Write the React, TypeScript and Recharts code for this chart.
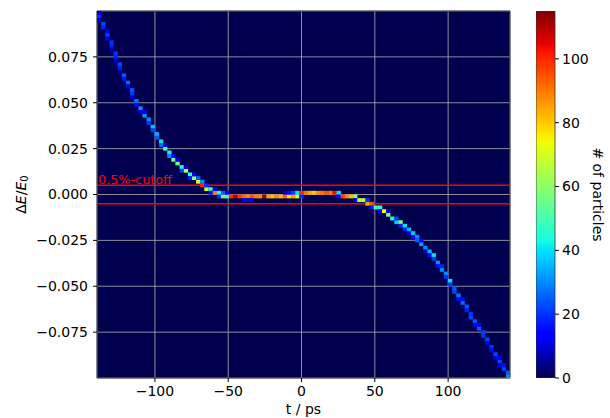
import {
  ScatterChart,
  Scatter,
  XAxis,
  YAxis,
  CartesianGrid,
  ReferenceLine,
  ReferenceArea,
  BarChart,
  Bar,
} from "recharts";

// t bin centres (ps)
const T_BINS = [
  -138.1, -135.3, -132.5, -129.6, -126.8, -124.0, -121.2, -118.4, -115.6, -112.7,
  -109.9, -107.1, -104.3, -101.5, -98.7, -95.8, -93.0, -90.2, -87.4, -84.6,
  -81.8, -78.9, -76.1, -73.3, -70.5, -67.7, -64.9, -62.0, -59.2, -56.4,
  -53.6, -50.8, -48.0, -45.1, -42.3, -39.5, -36.7, -33.9, -31.1, -28.2,
  -25.4, -22.6, -19.8, -17.0, -14.2, -11.3, -8.5, -5.7, -2.9, -0.1,
  2.8, 5.6, 8.4, 11.2, 14.0, 16.8, 19.7, 22.5, 25.3, 28.1,
  30.9, 33.7, 36.6, 39.4, 42.2, 45.0, 47.8, 50.6, 53.5, 56.3,
  59.1, 61.9, 64.7, 67.5, 70.4, 73.2, 76.0, 78.8, 81.6, 84.4,
  87.3, 90.1, 92.9, 95.7, 98.5, 101.3, 104.2, 107.0, 109.8, 112.6,
  115.4, 118.2, 121.1, 123.9, 126.7, 129.5, 132.3, 135.1, 138.0, 140.8,
];

// main (densest) dE/E0 bin of each t column, and its particle count
const DE_MAIN = [
  0.097, 0.093, 0.087, 0.081, 0.075, 0.069, 0.065, 0.061, 0.055, 0.051,
  0.047, 0.043, 0.041, 0.037, 0.033, 0.029, 0.025, 0.023, 0.019, 0.017,
  0.015, 0.013, 0.011, 0.009, 0.007, 0.005, 0.003, 0.003, 0.001, 0.001,
  -0.001, -0.001, -0.001, -0.001, -0.001, -0.001, -0.001, -0.001, -0.001, -0.001,
  -0.001, -0.001, -0.001, -0.001, -0.001, -0.001, -0.001, -0.001, -0.001, 0.001,
  0.001, 0.001, 0.001, 0.001, 0.001, 0.001, 0.001, 0.001, 0.001, -0.001,
  -0.001, -0.001, -0.001, -0.003, -0.003, -0.005, -0.005, -0.007, -0.007, -0.009,
  -0.011, -0.013, -0.015, -0.015, -0.017, -0.019, -0.021, -0.023, -0.027, -0.029,
  -0.031, -0.033, -0.037, -0.041, -0.043, -0.047, -0.051, -0.055, -0.059, -0.061,
  -0.067, -0.069, -0.073, -0.075, -0.079, -0.083, -0.087, -0.091, -0.095, -0.099,
];
const N_MAIN = [
  20, 22, 22, 18, 18, 18, 24, 26, 20, 28,
  30, 32, 30, 36, 34, 40, 50, 42, 55, 58,
  45, 65, 45, 60, 70, 100, 72, 45, 90, 45,
  55, 50, 100, 110, 98, 92, 88, 95, 90, 88,
  112, 85, 80, 88, 82, 92, 78, 85, 72, 100,
  90, 85, 80, 88, 90, 95, 90, 103, 40, 98,
  88, 82, 60, 68, 66, 85, 95, 50, 45, 75,
  58, 45, 38, 55, 40, 35, 38, 30, 32, 30,
  35, 40, 30, 30, 30, 40, 25, 28, 26, 24,
  22, 24, 25, 22, 22, 20, 22, 22, 22, 30,
];

// neighbouring bin in the same column (null = empty)
const DE_SIDE = [
  0.099, 0.091, 0.089, 0.083, 0.077, 0.071, 0.063, 0.059, 0.057, 0.049,
  0.045, 0.045, 0.039, 0.035, 0.031, 0.027, 0.027, 0.021, 0.021, 0.019,
  0.013, 0.015, 0.009, 0.011, 0.009, 0.007, 0.005, 0.001, 0.003, -0.001,
  0.001, 0.001, null, null, null, -0.003, -0.003, -0.003, null, null,
  null, null, null, null, null, 0.001, 0.001, 0.001, 0.001, -0.001,
  null, null, null, null, null, null, null, null, -0.001, null,
  null, null, -0.003, null, null, -0.003, -0.007, null, -0.009, null,
  -0.009, null, -0.013, -0.017, -0.019, -0.021, -0.023, -0.025, -0.025, -0.031,
  -0.033, -0.035, -0.039, -0.039, -0.045, -0.049, -0.053, -0.057, -0.057, -0.063,
  -0.065, -0.071, -0.071, -0.077, -0.081, -0.085, -0.089, -0.089, -0.093, -0.097,
];
const N_SIDE = [
  14, 18, 12, 20, 20, 22, 16, 12, 24, 16,
  12, 14, 20, 22, 24, 26, 10, 30, 15, 12,
  20, 10, 18, 12, 25, 30, 20, 15, 12, 20,
  25, 15, null, null, null, 12, 10, 12, null, null,
  null, null, null, null, null, 10, 15, 22, 40, 20,
  null, null, null, null, null, null, null, null, 15, null,
  null, null, 12, null, null, 20, 18, null, 15, null,
  10, null, 22, 18, 18, 12, 15, 25, 12, 10,
  15, 20, 15, 18, 20, 20, 22, 15, 14, 18,
  20, 12, 14, 20, 14, 15, 12, 12, 16, 25,
];

// third bin in the steepest columns
const EXTRA_BIN = [0, 2, 3, 4, 5, 8, 97];
const EXTRA_DE = [0.095, 0.085, 0.079, 0.073, 0.067, 0.053, -0.093];
const EXTRA_N = [10, 14, 8, 10, 8, 10, 10];

const X_TICKS = [-100, -50, 0, 50, 100];
const Y_TICKS = [-0.075, -0.05, -0.025, 0, 0.025, 0.05, 0.075];
const CBAR_TICKS = [0, 20, 40, 60, 80, 100];
const CUTOFF = 0.005;

const X_MIN = -139.5;
const X_MAX = 142.2;
const Y_MIN = -0.1;
const Y_MAX = 0.1;
const N_MAX = 115;
const BIN_T = 2.817;
const BIN_E = 0.002;

const PLOT_W = 413;
const PLOT_H = 367;
const CW = (PLOT_W / (X_MAX - X_MIN)) * BIN_T;
const CH = (PLOT_H / (Y_MAX - Y_MIN)) * BIN_E;

// jet-like colormap (dark navy at zero, as in the reference)
const RED = [[0, 0], [0.35, 0], [0.66, 1], [0.89, 1], [1, 0.5]];
const GREEN = [[0, 0], [0.125, 0], [0.375, 1], [0.64, 1], [0.91, 0], [1, 0]];
const BLUE = [[0, 0.31], [0.11, 1], [0.34, 1], [0.65, 0], [1, 0]];

function channel(pts: number[][], v: number) {
  for (let i = 1; i < pts.length; i++) {
    if (v <= pts[i][0]) {
      const [x0, y0] = pts[i - 1];
      const [x1, y1] = pts[i];
      return y0 + ((v - x0) / (x1 - x0)) * (y1 - y0);
    }
  }
  return pts[pts.length - 1][1];
}
function jet(v: number) {
  const c = Math.max(0, Math.min(1, v));
  const r = Math.round(channel(RED, c) * 255);
  const g = Math.round(channel(GREEN, c) * 255);
  const b = Math.round(channel(BLUE, c) * 255);
  return `rgb(${r},${g},${b})`;
}

const cells = T_BINS.flatMap((t, i) => {
  const out = [{ t, dE: DE_MAIN[i], n: N_MAIN[i] }];
  if (DE_SIDE[i] !== null) out.push({ t, dE: DE_SIDE[i] as number, n: N_SIDE[i] as number });
  return out;
}).concat(EXTRA_BIN.map((b, j) => ({ t: T_BINS[b], dE: EXTRA_DE[j], n: EXTRA_N[j] })));

const cbarData = [{ name: "n", v: N_MAX }];

const minus = (s: string) => s.replace("-", "\u2212");
const fmtX = (v: number) => minus(String(v));
const fmtY = (v: number) => minus(v.toFixed(3));

function BinRect(p: any) {
  return (
    <rect
      x={p.cx - CW / 2}
      y={p.cy - CH / 2}
      width={CW + 0.2}
      height={CH + 0.2}
      fill={jet(p.payload.n / N_MAX)}
    />
  );
}

function YLabel(props: any) {
  const vb = props.viewBox;
  const x = 21;
  const y = vb.y + vb.height / 2;
  return (
    <text
      x={x}
      y={y}
      transform={`rotate(-90, ${x}, ${y})`}
      textAnchor="middle"
      dominantBaseline="central"
      fontSize={14}
      fill="#000"
    >
      Δ<tspan fontStyle="italic">E</tspan>/<tspan fontStyle="italic">E</tspan>
      <tspan fontSize={10} dy={3}>0</tspan>
    </text>
  );
}

const tickStyle = { fill: "#000", fontSize: 14 };

export default function App() {
  return (
    <div
      style={{
        position: "absolute",
        left: 0,
        top: 0,
        width: 610,
        height: 418,
        background: "#fff",
        fontFamily: "DejaVu Sans",
      }}
    >
      <ScatterChart width={610} height={418} margin={{ top: 11, right: 100, bottom: 0, left: 37 }}>
        <CartesianGrid fill={jet(0)} stroke="#b0b0b0" strokeWidth={0.8} />
        <XAxis
          type="number"
          dataKey="t"
          domain={[X_MIN, X_MAX]}
          ticks={X_TICKS}
          allowDataOverflow
          height={40}
          tickFormatter={fmtX}
          tick={tickStyle}
          tickSize={4}
          tickMargin={4}
          axisLine={false}
          tickLine={{ stroke: "#000" }}
          label={{ value: "t / ps", position: "insideBottom", offset: 4.5, fill: "#000", fontSize: 14 }}
        />
        <YAxis
          type="number"
          dataKey="dE"
          domain={[Y_MIN, Y_MAX]}
          ticks={Y_TICKS}
          allowDataOverflow
          width={60}
          tickFormatter={fmtY}
          tick={tickStyle}
          tickSize={4}
          tickMargin={5}
          axisLine={false}
          tickLine={{ stroke: "#000" }}
          label={<YLabel />}
        />
        <Scatter data={cells} shape={BinRect} isAnimationActive={false} />
        <ReferenceLine
          y={CUTOFF}
          stroke="red"
          strokeWidth={1.5}
          label={{ value: "0.5%-cutoff", position: "insideBottomLeft", offset: 1, fill: "red", fontSize: 12.8 }}
        />
        <ReferenceLine y={-CUTOFF} stroke="red" strokeWidth={1.5} />
        <ReferenceArea
          x1={X_MIN}
          x2={X_MAX}
          y1={Y_MIN}
          y2={Y_MAX}
          fill="none"
          fillOpacity={0}
          stroke="#333"
          strokeWidth={1}
        />
      </ScatterChart>
      <div style={{ position: "absolute", left: 536, top: 0 }}>
        <BarChart
          width={74}
          height={418}
          data={cbarData}
          margin={{ top: 11, right: 0, bottom: 40, left: 0 }}
          barCategoryGap={0}
        >
          <defs>
            <linearGradient id="jetGrad" x1="0" y1="1" x2="0" y2="0">
              {[0, 0.11, 0.125, 0.2, 0.34, 0.35, 0.375, 0.5, 0.64, 0.65, 0.66, 0.75, 0.89, 0.91, 1].map((o) => (
                <stop key={o} offset={o} stopColor={jet(o)} />
              ))}
            </linearGradient>
          </defs>
          <XAxis dataKey="name" hide />
          <YAxis
            orientation="right"
            domain={[0, N_MAX]}
            ticks={CBAR_TICKS}
            allowDataOverflow
            width={55}
            tick={tickStyle}
            tickSize={4}
            tickMargin={3}
            axisLine={false}
            tickLine={{ stroke: "#000" }}
            label={{ value: "# of particles", angle: 90, position: "center", dx: 15, fill: "#000", fontSize: 14 }}
          />
          <Bar dataKey="v" fill="url(#jetGrad)" stroke="#333" strokeWidth={0.8} isAnimationActive={false} />
        </BarChart>
      </div>
    </div>
  );
}
